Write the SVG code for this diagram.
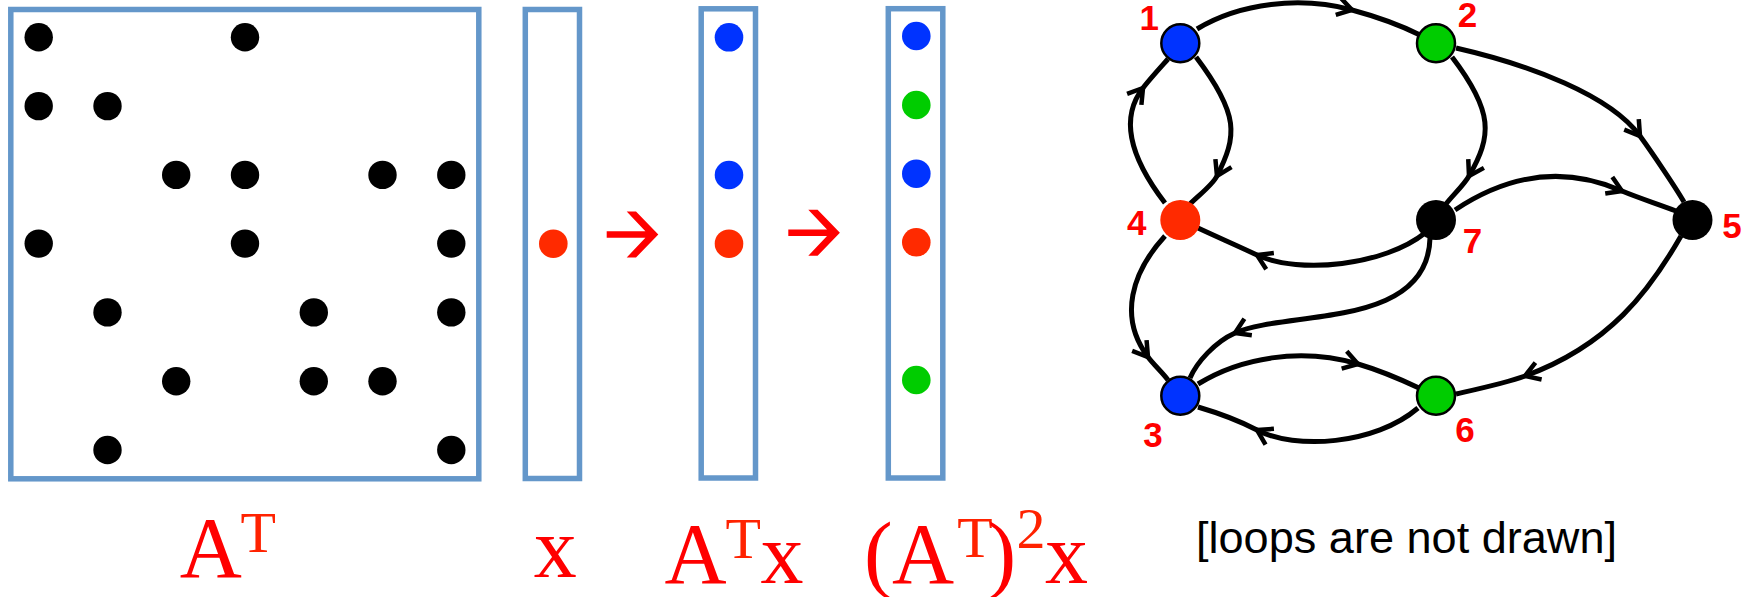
<svg xmlns="http://www.w3.org/2000/svg" width="1748" height="597" viewBox="0 0 1748 597">
<defs>
<style>
.box{fill:none;stroke:#6497CA;stroke-width:5.5}
.m{fill:#000}
.blue{fill:#0033FF}
.green{fill:#00CC00}
.red{fill:#FF2A00}
.edge{fill:none;stroke:#000;stroke-width:5;marker-mid:url(#chev)}
.node{stroke:#000;stroke-width:2.5}
.nl{font-family:"Liberation Sans",Arial,sans-serif;font-weight:bold;font-size:35px;fill:#FF0000;text-anchor:middle}
.math{font-family:"Liberation Serif","Times New Roman",serif;fill:#FF0000;text-anchor:middle;font-size:86px}
.sup{font-size:58px;fill:#FF2200}
.note{font-family:"Liberation Sans",Arial,sans-serif;font-size:45px;fill:#000}
</style>
<marker id="chev" markerUnits="userSpaceOnUse" markerWidth="30" markerHeight="30" viewBox="-22 -15 30 30" refX="0" refY="0" orient="auto" overflow="visible">
<path d="M-14.4,-9 L0,0 L-14.4,9" fill="none" stroke="#000" stroke-width="4.5" stroke-linecap="butt" stroke-linejoin="miter"/>
</marker>
<path id="redarrow" d="M606.7,231.2 L645.4,231.2 L626.7,211.5 L636,211.5 L658.3,234.5 L636,257.5 L626.7,257.5 L645.4,237.8 L606.7,237.8 Z" fill="#FF0000"/>
</defs>
<rect width="1748" height="597" fill="#fff"/>

<g id="matrix">
<rect class="box" x="10.8" y="9.5" width="468" height="469.3"/>
<g class="m">
<circle cx="38.7" cy="37.3" r="14.2"/><circle cx="245" cy="37.3" r="14.2"/>
<circle cx="38.7" cy="106.1" r="14.2"/><circle cx="107.5" cy="106.1" r="14.2"/>
<circle cx="176.2" cy="174.9" r="14.2"/><circle cx="245" cy="174.9" r="14.2"/><circle cx="382.5" cy="174.9" r="14.2"/><circle cx="451.3" cy="174.9" r="14.2"/>
<circle cx="38.7" cy="243.6" r="14.2"/><circle cx="245" cy="243.6" r="14.2"/><circle cx="451.3" cy="243.6" r="14.2"/>
<circle cx="107.5" cy="312.4" r="14.2"/><circle cx="313.8" cy="312.4" r="14.2"/><circle cx="451.3" cy="312.4" r="14.2"/>
<circle cx="176.2" cy="381.2" r="14.2"/><circle cx="313.8" cy="381.2" r="14.2"/><circle cx="382.5" cy="381.2" r="14.2"/>
<circle cx="107.5" cy="450" r="14.2"/><circle cx="451.3" cy="450" r="14.2"/>
</g>
</g>

<g id="vector-x">
<rect class="box" x="525.3" y="9.5" width="54.2" height="469"/>
<circle class="red" cx="553.3" cy="243.7" r="14.3"/>
</g>

<g id="vector-ATx">
<rect class="box" x="701.2" y="8.8" width="54.3" height="469.2"/>
<circle class="blue" cx="729" cy="37.3" r="14.3"/>
<circle class="blue" cx="729" cy="175" r="14.3"/>
<circle class="red" cx="729" cy="243.7" r="14.3"/>
</g>

<g id="vector-AT2x">
<rect class="box" x="888.3" y="8.7" width="54.5" height="469.3"/>
<circle class="blue" cx="916.3" cy="36" r="14.3"/>
<circle class="green" cx="916.3" cy="105" r="14.3"/>
<circle class="blue" cx="916.3" cy="173.7" r="14.3"/>
<circle class="red" cx="916.3" cy="242.3" r="14.3"/>
<circle class="green" cx="916.3" cy="380" r="14.3"/>
</g>

<g id="red-arrows">
<use href="#redarrow"/>
<use href="#redarrow" transform="translate(181.6,-1.7)"/>
</g>

<g id="formula-labels">
<text class="math"><tspan x="210.9" y="577">A</tspan><tspan class="sup" x="258.3" y="551.7">T</tspan></text>
<text class="math" x="555.3" y="576.7">x</text>
<text class="math"><tspan x="695.5" y="583">A</tspan><tspan class="sup" x="743.3" y="557.7">T</tspan><tspan x="782" y="583">x</tspan></text>
<text class="math"><tspan x="878.3" y="582">(</tspan><tspan x="923" y="583">A</tspan><tspan class="sup" x="975" y="556.7">T</tspan><tspan x="1001.7" y="582">)</tspan><tspan class="sup" x="1031" y="548">2</tspan><tspan x="1066.4" y="583">x</tspan></text>
</g>

<text class="note" x="1196" y="553" textLength="421" lengthAdjust="spacingAndGlyphs">[loops are not drawn]</text>

<g id="connectors">
<path id="e1-2" class="edge" d="M1197,29 C1240,3 1300,-4 1352,10 C1375,16.2 1398,24 1420,35"/>
<path id="e1-4" class="edge" d="M1196,57 C1240,115 1237,136 1217,176 C1212.5,185 1198,196 1190,204"/>
<path id="e4-1" class="edge" d="M1165,203 C1132,160 1118,120 1143,88 C1149,80 1160,68 1168,59"/>
<path id="e2-7" class="edge" d="M1452,57 C1494,112 1492,136 1469,176 C1464,185 1452,196 1446,204"/>
<path id="e2-5" class="edge" d="M1456,48 C1530,65 1610,95 1640,136 C1651.8,152.2 1676,188 1684,202"/>
<path id="e7-5" class="edge" d="M1455,210 C1515,170 1570,168 1622,191 C1640,198.5 1658,204 1676,211"/>
<path id="e7-4" class="edge" d="M1425,233 C1385,265 1300,275 1257,255 C1238,246 1215,236 1198,228"/>
<path id="e7-3" class="edge" d="M1430,238 C1428,330 1285,310 1235,333 C1215,342 1197,362 1190,378"/>
<path id="e4-3" class="edge" d="M1165,236 C1132,272 1118,317 1148,357 C1154,365 1162,372 1168,380"/>
<path id="e3-6" class="edge" d="M1198,384 C1240,358 1300,347 1358,364 C1380,370.5 1400,379 1419,388"/>
<path id="e6-3" class="edge" d="M1418,408 C1375,445 1295,450 1257,430 C1238,420 1215,412 1198,407"/>
<path id="e5-6" class="edge" d="M1681,236 C1650,290 1610,345 1525,376 C1506,383 1478,389 1456,394"/>
</g>

<g id="node1"><circle class="node blue" cx="1180.3" cy="43.3" r="19"/><text class="nl" x="1149.3" y="30">1</text></g>
<g id="node2"><circle class="node green" cx="1436" cy="43.3" r="19"/><text class="nl" x="1467.5" y="26.7">2</text></g>
<g id="node4"><circle class="red" cx="1180.3" cy="220" r="20"/><text class="nl" x="1136.7" y="235">4</text></g>
<g id="node7"><circle fill="#000" cx="1436" cy="220" r="20"/><text class="nl" x="1472.5" y="253.3">7</text></g>
<g id="node5"><circle fill="#000" cx="1692.5" cy="220" r="20"/><text class="nl" x="1732" y="238.3">5</text></g>
<g id="node3"><circle class="node blue" cx="1180.3" cy="395.7" r="19"/><text class="nl" x="1153" y="446.7">3</text></g>
<g id="node6"><circle class="node green" cx="1436" cy="395.7" r="19"/><text class="nl" x="1465" y="441.7">6</text></g>
</svg>
